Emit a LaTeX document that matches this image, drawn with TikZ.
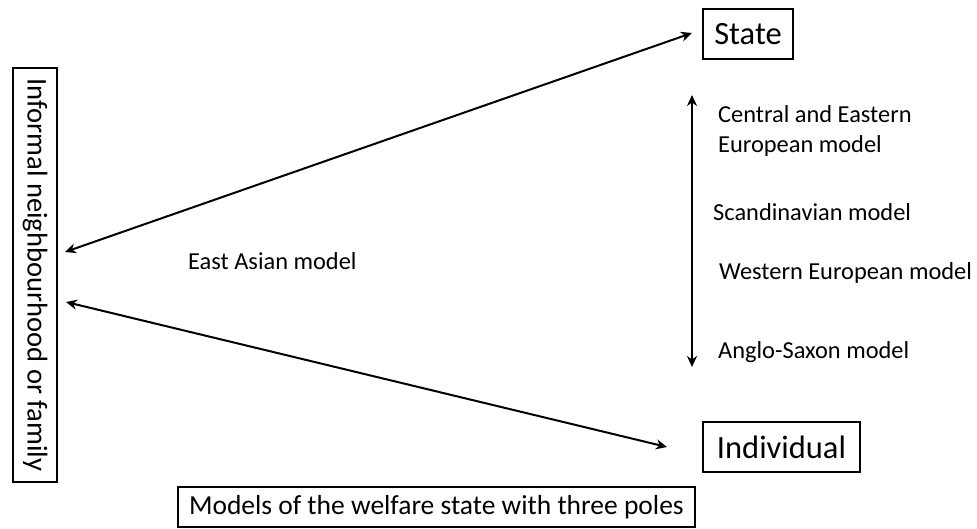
\documentclass[tikz,border=0pt]{standalone}
\usepackage{fontspec}
\setmainfont{Carlito}
\usetikzlibrary{arrows.meta}

\begin{document}
\begin{tikzpicture}[x=1pt,y=-1pt,
  pole/.style={draw,line width=2pt,inner sep=0pt},
  lbl/.style={anchor=west,inner sep=0pt,font=\fontsize{24.4}{30}\selectfont},
  twoway/.style={line width=2pt,{Stealth[length=11pt,width=10pt]}-{Stealth[length=11pt,width=10pt]}}]
\useasboundingbox (0,0) rectangle (977,528);

\node[pole,rotate=-90,minimum width=414pt,minimum height=44pt,font=\fontsize{28.6}{34}\selectfont] (family) at (35,275) {Informal neighbourhood or family};
\node[pole,minimum width=90pt,minimum height=50pt,font=\fontsize{32.5}{38}\selectfont] (state) at (748,34) {State};
\node[pole,minimum width=157pt,minimum height=50pt,font=\fontsize{32.5}{38}\selectfont] (individual) at (781.5,447) {Individual};
\node[pole,anchor=west,inner xsep=11pt,minimum height=40pt,font=\fontsize{27.5}{33}\selectfont] (caption) at (177,507) {Models of the welfare state with three poles};

\node[lbl] (eastasian) at (188,261) {East Asian model};
\node[lbl,align=left] (central) at (718,131) {Central and Eastern\\European model};
\node[lbl] (scandinavian) at (713,212) {Scandinavian model};
\node[lbl] (western) at (719,273) {Western European model};
\node[lbl] (anglo) at (718,352) {Anglo-Saxon model};

\coordinate (famtop) at (65,252);
\coordinate (fambot) at (66,302);
\coordinate (stateend) at (692,33);
\coordinate (indend) at (667,447);
\coordinate (scaletop) at (692,95);
\coordinate (scalebot) at (692,367);

\draw[twoway] (famtop) -- (stateend);
\draw[twoway] (fambot) -- (indend);
\draw[twoway] (scaletop) -- (scalebot);
\end{tikzpicture}
\end{document}
